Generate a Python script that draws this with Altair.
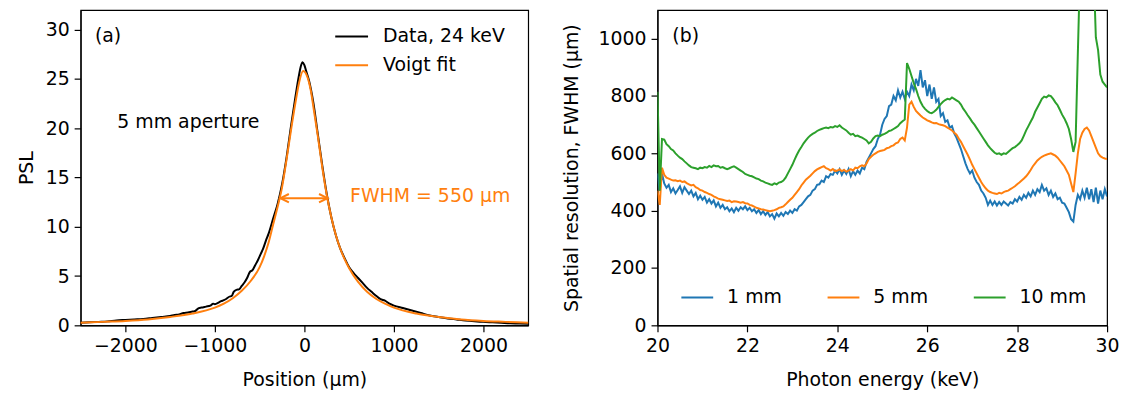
import altair as alt
import pandas as pd

FONT = "DejaVu Sans"
FS = 19

# ---------------- panel (a): line spread profile ----------------
fit_pos = [-2500, -2250, -2000, -1750, -1500, -1250, -1000, -900, -800, -700, -600, -500,
           -450, -400, -350, -300, -250, -200, -150, -100, -60, -15, 30, 70, 110, 150, 200,
           250, 300, 350, 400, 450, 500, 600, 700, 800, 900, 1000, 1250, 1500, 1750, 2000,
           2250, 2500]
fit_psl = [0.25, 0.35, 0.45, 0.6, 0.85, 1.2, 1.8, 2.2, 2.75, 3.5, 4.5, 5.9,
           7.0, 8.4, 10.2, 12.0, 14.0, 16.8, 19.8, 22.6, 24.6, 25.8, 25.3, 23.9, 21.6, 19.2, 16.0,
           13.2, 11.0, 9.2, 7.8, 6.7, 5.8, 4.4, 3.4, 2.7, 2.2, 1.8, 1.2, 0.85, 0.6, 0.45,
           0.35, 0.25]

data_pos = [-2500, -2400, -2300, -2200, -2100, -2000, -1900, -1800, -1700, -1600, -1500, -1450,
            -1400, -1350, -1300, -1250, -1220, -1180, -1150, -1100, -1050, -1020, -1000, -960,
            -930, -900, -870, -840, -810, -790, -760, -730, -700, -670, -640, -610, -580, -550,
            -520, -490, -460, -430, -400, -350, -300, -250, -200, -150, -100, -60, -40, -20, 0,
            20, 50, 100, 150, 200, 250, 300, 350, 400, 450, 500, 550, 600, 650, 700, 750, 800,
            850, 900, 950, 1000, 1100, 1200, 1300, 1400, 1500, 1600, 1700, 1800, 1900, 2000,
            2100, 2200, 2300, 2400, 2500]
data_psl = [0.25, 0.3, 0.35, 0.4, 0.5, 0.55, 0.6, 0.65, 0.75, 0.85, 0.95, 1.05,
            1.1, 1.25, 1.3, 1.4, 1.45, 1.75, 1.8, 1.9, 2.0, 2.2, 2.15, 2.3,
            2.45, 2.55, 2.7, 2.9, 3.0, 3.4, 3.6, 3.65, 4.0, 4.35, 4.8, 5.4, 5.6, 6.1,
            6.6, 7.2, 7.8, 8.6, 9.3, 10.8, 12.3, 14.3, 17.0, 20.2, 23.2, 25.4, 26.3, 26.7, 26.4,
            25.8, 24.9, 22.6, 19.4, 16.2, 13.3, 11.0, 9.2, 7.8, 6.8, 5.9, 5.3, 4.8, 4.3, 3.8, 3.4, 3.0,
            2.65, 2.5, 2.2, 2.0, 1.75, 1.5, 1.25, 1.0, 0.85, 0.7, 0.6, 0.5, 0.42, 0.35,
            0.3, 0.25, 0.2, 0.18, 0.15]

series_a = ["Data, 24 keV", "Voigt fit"]
colors_a = ["black", "#ff7f0e"]

fwhm_left, fwhm_right, fwhm_level = -268, 258, 12.9

# ---------------- panel (b): resolution vs energy ----------------
energy = [round(20 + 0.05 * i, 2) for i in range(201)]

blue_1mm = (
    [530, 470, 530, 495, 480, 490, 465, 478, 460, 472, 485, 462, 482, 470, 458, 470, 450, 462, 440, 452] +
    [438, 448, 428, 440, 425, 436, 415, 428, 410, 420, 405, 412, 398, 408, 395, 410, 400, 412, 405, 415] +
    [402, 410, 398, 405, 392, 402, 388, 398, 385, 395, 380, 388, 372, 390, 380, 392, 382, 395, 388, 400] +
    [392, 405, 400, 415, 420, 430, 440, 450, 455, 470, 475, 490, 492, 505, 500, 520, 515, 528, 525, 540] +
    [530, 545, 525, 540, 528, 545, 520, 538, 525, 540, 530, 550, 545, 570, 585, 600, 615, 625, 650, 665] +
    [700, 720, 730, 765, 770, 800, 785, 820, 795, 815, 790, 815, 800, 840, 820, 860, 835, 890, 830, 855] +
    [800, 840, 790, 830, 780, 790, 730, 740, 710, 715, 690, 695, 670, 655, 635, 615, 590, 565, 545, 530] +
    [540, 515, 500, 490, 470, 460, 445, 420, 435, 420, 432, 418, 430, 420, 432, 425, 418, 430, 425, 440] +
    [432, 448, 438, 455, 445, 462, 450, 470, 455, 475, 465, 490, 470, 478, 455, 470, 448, 460, 440, 445] +
    [428, 425, 410, 395, 370, 362, 420, 455, 440, 470, 445, 480, 440, 475, 430, 480, 425, 470, 440, 475] +
    [450]
)
orange_5mm = (
    [470, 420, 550, 525, 515, 512, 508, 505, 506, 503, 505, 500, 502, 496, 492, 488, 490, 482, 478, 472] +
    [470, 465, 462, 458, 455, 450, 446, 442, 440, 438, 436, 434, 435, 430, 433, 432, 430, 428, 430, 426] +
    [425, 420, 418, 414, 410, 408, 405, 404, 402, 400, 398, 400, 402, 405, 410, 412, 415, 422, 430, 438] +
    [445, 455, 465, 475, 488, 498, 508, 515, 522, 530, 538, 544, 548, 552, 555, 548, 545, 540, 545, 538] +
    [540, 544, 538, 542, 536, 540, 545, 540, 550, 548, 555, 558, 555, 565, 580, 588, 595, 600, 605, 608] +
    [610, 612, 618, 620, 625, 628, 635, 638, 650, 655, 645, 690, 770, 780, 762, 748, 740, 732, 725, 720] +
    [715, 712, 708, 705, 706, 702, 700, 698, 695, 690, 685, 680, 672, 665, 652, 640, 625, 610, 595, 578] +
    [560, 545, 530, 515, 500, 488, 478, 470, 465, 462, 460, 458, 462, 460, 465, 468, 470, 475, 480, 485] +
    [492, 498, 505, 512, 520, 530, 542, 555, 565, 575, 582, 588, 592, 595, 598, 600, 596, 592, 585, 575] +
    [565, 555, 540, 525, 495, 465, 530, 600, 650, 672, 685, 690, 680, 660, 640, 620, 600, 590, 585, 582] +
    [580]
)
green_10mm = (
    [815, 470, 650, 648, 632, 625, 615, 610, 600, 592, 585, 580, 572, 565, 558, 552, 550, 548, 545, 550] +
    [548, 552, 550, 556, 552, 558, 555, 556, 550, 552, 548, 545, 548, 552, 555, 550, 545, 540, 535, 528] +
    [525, 522, 520, 516, 512, 510, 505, 502, 498, 495, 492, 490, 495, 492, 498, 500, 505, 515, 530, 545] +
    [560, 578, 595, 610, 622, 635, 645, 655, 662, 668, 672, 678, 682, 685, 688, 690, 688, 692, 690, 695] +
    [692, 698, 690, 685, 680, 672, 665, 668, 660, 662, 658, 655, 650, 645, 635, 640, 652, 660, 662, 660] +
    [665, 668, 672, 678, 680, 685, 690, 695, 705, 712, 718, 915, 895, 870, 845, 825, 800, 780, 765, 755] +
    [748, 742, 740, 745, 752, 762, 772, 780, 786, 790, 788, 795, 790, 785, 780, 770, 756, 745, 733, 722] +
    [710, 700, 688, 676, 664, 652, 640, 628, 618, 610, 602, 598, 600, 595, 600, 598, 605, 612, 618, 622] +
    [628, 635, 645, 662, 680, 695, 710, 725, 745, 760, 775, 790, 798, 795, 802, 800, 790, 778, 768, 752] +
    [735, 722, 705, 685, 650, 605, 640, 950, 1250, 1350, 1400, 1400, 1350, 1300, 1250, 1005, 960, 875, 850, 840] +
    [830]
)
series_b = ["1 mm", "5 mm", "10 mm"]
colors_b = ["#1f77b4", "#ff7f0e", "#2ca02c"]

# ---------------- tables ----------------
df_fit = pd.DataFrame({"pos": fit_pos, "psl": fit_psl, "series": series_a[1]})
df_data = pd.DataFrame({"pos": data_pos, "psl": data_psl, "series": series_a[0]})
df_arrow = pd.DataFrame({"x1": [fwhm_left], "x2": [fwhm_right], "y": [fwhm_level]})
df_heads = pd.DataFrame({"x": [fwhm_left, fwhm_right], "y": [fwhm_level, fwhm_level],
                         "side": ["L", "R"]})
df_a_txt = pd.DataFrame({"x": [-2340, -2090], "y": [29.4, 20.6], "t": ["(a)", "5 mm aperture"]})
df_fwhm_txt = pd.DataFrame({"x": [510], "y": [13.1], "t": ["FWHM = 550 μm"]})

frames = []
for name, vals in zip(series_b, [blue_1mm, orange_5mm, green_10mm]):
    frames.append(pd.DataFrame({"energy": energy, "fwhm": vals, "aperture": name}))
df_b = pd.concat(frames, ignore_index=True)
df_b_txt = pd.DataFrame({"x": [20.33], "y": [1010], "t": ["(b)"]})

# ---------------- panel (a) chart ----------------
xa = alt.X("pos:Q", scale=alt.Scale(domain=[-2500, 2500], nice=False, zero=False),
           axis=alt.Axis(values=[-2000, -1000, 0, 1000, 2000], format="d", title="Position (μm)"))
ya = alt.Y("psl:Q", scale=alt.Scale(domain=[0, 32], nice=False),
           axis=alt.Axis(values=[0, 5, 10, 15, 20, 25, 30], format="d", title="PSL", titlePadding=9))
col_a = alt.Color("series:N", scale=alt.Scale(domain=series_a, range=colors_a),
                  legend=alt.Legend(title=None, orient="none", legendX=255, legendY=9,
                                    symbolType="stroke", symbolSize=1089, symbolStrokeWidth=2,
                                    labelFont=FONT, labelFontSize=FS, labelOffset=14,
                                    rowPadding=1, labelColor="black"))

line_data = alt.Chart(df_data).mark_line(strokeWidth=2, interpolate="monotone").encode(x=xa, y=ya, color=col_a)
line_fit = alt.Chart(df_fit).mark_line(strokeWidth=2, interpolate="monotone").encode(x=xa, y=ya, color=col_a)
arrow = alt.Chart(df_arrow).mark_rule(color="#ff7f0e", strokeWidth=2).encode(
    x="x1:Q", x2="x2:Q", y="y:Q")
head_l = alt.Chart(df_heads).transform_filter("datum.side == 'L'").mark_point(
    shape="M1.7,-0.85L0,0L1.7,0.85", filled=False, stroke="#ff7f0e", strokeWidth=2,
    size=100, opacity=1).encode(x="x:Q", y="y:Q")
head_r = alt.Chart(df_heads).transform_filter("datum.side == 'R'").mark_point(
    shape="M-1.7,-0.85L0,0L-1.7,0.85", filled=False, stroke="#ff7f0e", strokeWidth=2,
    size=100, opacity=1).encode(x="x:Q", y="y:Q")
txt_a = alt.Chart(df_a_txt).mark_text(align="left", baseline="middle", font=FONT, fontSize=FS,
                                      color="black").encode(x="x:Q", y="y:Q", text="t:N")
txt_fwhm = alt.Chart(df_fwhm_txt).mark_text(align="left", baseline="middle", font=FONT, fontSize=FS,
                                            color="#ff7f0e").encode(x="x:Q", y="y:Q", text="t:N")

panel_a = alt.layer(line_data, line_fit, arrow, head_l, head_r, txt_a, txt_fwhm).properties(
    width=450, height=317)

# ---------------- panel (b) chart ----------------
xb = alt.X("energy:Q", scale=alt.Scale(domain=[20, 30], nice=False, zero=False),
           axis=alt.Axis(values=[20, 22, 24, 26, 28, 30], format="d", title="Photon energy (keV)"))
yb = alt.Y("fwhm:Q", scale=alt.Scale(domain=[0, 1100], nice=False),
           axis=alt.Axis(values=[0, 200, 400, 600, 800, 1000], format="d",
                         title="Spatial resolution, FWHM (μm)", titlePadding=17))
col_b = alt.Color("aperture:N", scale=alt.Scale(domain=series_b, range=colors_b),
                  legend=alt.Legend(title=None, orient="none", legendX=23, legendY=272,
                                    direction="horizontal", columns=3,
                                    symbolType="stroke", symbolSize=1024, symbolStrokeWidth=2,
                                    labelFont=FONT, labelFontSize=FS, labelOffset=13,
                                    columnPadding=41, labelColor="black"))
layers_b = []
for name in series_b:
    layers_b.append(
        alt.Chart(df_b).transform_filter(alt.datum.aperture == name)
        .mark_line(strokeWidth=2, clip=True).encode(x=xb, y=yb, color=col_b))
txt_b = alt.Chart(df_b_txt).mark_text(align="left", baseline="middle", font=FONT, fontSize=FS,
                                      color="black").encode(x="x:Q", y="y:Q", text="t:N")
panel_b = alt.layer(*layers_b, txt_b).properties(width=452, height=317)

chart = alt.hconcat(panel_a, panel_b, spacing=28).resolve_scale(color="independent").properties(
    padding={"left": 8, "top": 0, "right": 0, "bottom": 0}
).configure_view(stroke="black", strokeWidth=1.2).configure_axis(
    labelFont=FONT, labelFontSize=FS, labelColor="black", titleFont=FONT, titleFontSize=FS,
    titleFontWeight="normal", titleColor="black", tickColor="black", tickSize=6.5, tickWidth=1.2,
    domainColor="black", domainWidth=1.2, grid=False, labelPadding=5, labelFlush=False
).configure_axisX(titlePadding=15)

chart.save("out.html", embed_options={"renderer": "svg", "actions": False})
